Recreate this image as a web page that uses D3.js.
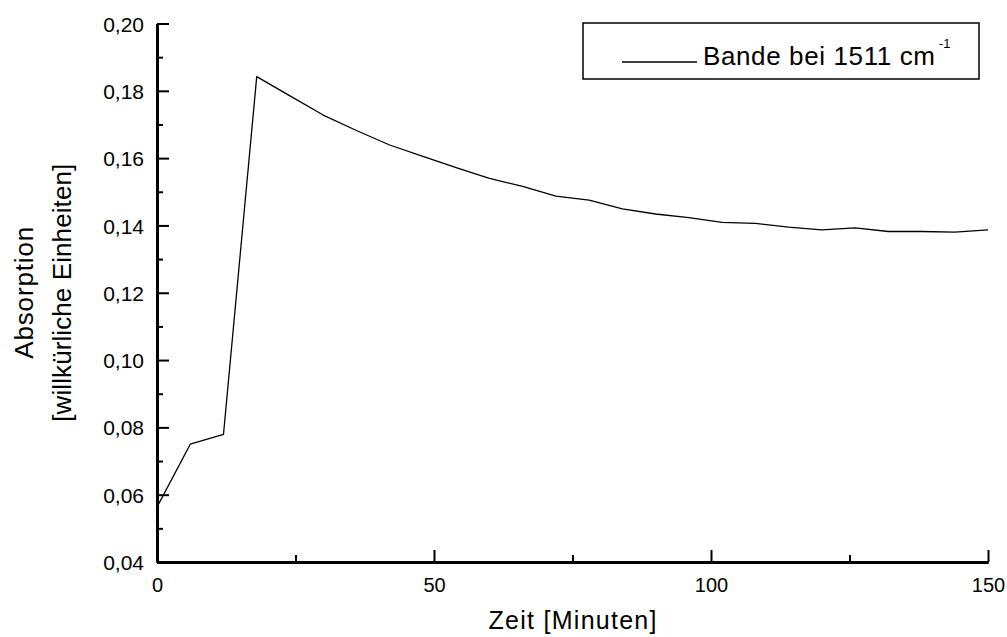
<!DOCTYPE html>
<html>
<head>
<meta charset="utf-8">
<script src="https://cdn.jsdelivr.net/npm/d3@7"></script>
<style>
  body { margin: 0; background: #fff; }
  svg { font-family: "Liberation Sans", Arial, sans-serif; }
</style>
</head>
<body>
<svg width="1007" height="637"></svg>
<script>
// Zeit in Minuten und gemessene Absorption
let zeit = [0, 6, 12, 18, 24, 30, 36, 42, 48, 54, 60, 66, 72, 78, 84, 90, 96, 102, 108, 114, 120, 126, 132, 138, 144, 150];
let absorption = [0.0563, 0.0750, 0.0779, 0.1842, 0.1785, 0.1728, 0.1682, 0.1639, 0.1605, 0.1572, 0.1540, 0.1516, 0.1487, 0.1475,
    0.1449, 0.1434, 0.1423, 0.1409, 0.1406, 0.1395, 0.1387, 0.1393, 0.1382, 0.1382, 0.1380, 0.1387];

let xTicks = [0, 50, 100, 150];
let xMinor = [25, 75, 125];
let yTicks = [0.04, 0.06, 0.08, 0.10, 0.12, 0.14, 0.16, 0.18, 0.20];
let yMinor = [0.05, 0.07, 0.09, 0.11, 0.13, 0.15, 0.17, 0.19];

let legendText = "Bande bei 1511 cm";
let xTitle = "Zeit [Minuten]";
let yTitle = ["Absorption", "[willkürliche Einheiten]"];

let pLeft = 157, pRight = 988, pTop = 23.5, pBottom = 562;

let svg = d3.select("svg");
let de = d3.formatLocale({decimal: ",", thousands: ".", grouping: [3], currency: ["", " €"]});

let xScale = d3.scaleLinear().domain([0, 150]).range([pLeft, pRight]);
let yScale = d3.scaleLinear().domain([0.04, 0.20]).range([pBottom, pTop]);

let styleAxis = (g, size) => {
    g.select(".domain").attr("stroke", "#000").attr("stroke-width", 3);
    g.selectAll(".tick line").attr("stroke", "#000").attr("stroke-width", 2);
    g.selectAll("text").attr("fill", "#000").style("font-size", size + "px");
};

// Nebenteilung
svg.append("g")
    .attr("transform", "translate(0," + pBottom + ")")
    .call(d3.axisBottom(xScale).tickValues(xMinor).tickSizeInner(-7).tickSizeOuter(0).tickFormat(""))
    .call(g => styleAxis(g, 20));
svg.append("g")
    .attr("transform", "translate(" + pLeft + ",0)")
    .call(d3.axisLeft(yScale).tickValues(yMinor).tickSizeInner(-6).tickSizeOuter(0).tickFormat(""))
    .call(g => styleAxis(g, 21));

// Hauptachsen
let xAxis = svg.append("g")
    .attr("transform", "translate(0," + pBottom + ")")
    .call(d3.axisBottom(xScale).tickValues(xTicks).tickSizeInner(-12).tickSizeOuter(0).tickPadding(14).tickFormat(d3.format("d")))
    .call(g => styleAxis(g, 20));
xAxis.selectAll("text").attr("y", 30).attr("dy", 0);

let yAxis = svg.append("g")
    .attr("transform", "translate(" + pLeft + ",0)")
    .call(d3.axisLeft(yScale).tickValues(yTicks).tickSizeInner(-12).tickSizeOuter(0).tickPadding(13).tickFormat(de.format(".2f")))
    .call(g => styleAxis(g, 21));
yAxis.selectAll("text").attr("dy", "0.36em");

// Messkurve
let line = d3.line()
    .x((d, i) => xScale(zeit[i]))
    .y(d => yScale(d));

svg.append("path")
    .datum(absorption)
    .attr("d", line)
    .attr("fill", "none")
    .attr("stroke", "#000")
    .attr("stroke-width", 1.3)
    .attr("stroke-linejoin", "round");

// Achsentitel
svg.append("text")
    .attr("x", (pLeft + pRight) / 2)
    .attr("y", 629)
    .attr("text-anchor", "middle")
    .attr("textLength", 168)
    .style("font-size", "25px")
    .text(xTitle);

svg.selectAll(".ytitle")
    .data(yTitle)
    .enter()
    .append("text")
    .attr("class", "ytitle")
    .attr("transform", (d, i) => "translate(" + (i == 0 ? 33 : 71) + "," + ((pTop + pBottom) / 2) + ") rotate(-90)")
    .attr("text-anchor", "middle")
    .attr("textLength", (d, i) => i == 0 ? 132 : 258)
    .style("font-size", "26px")
    .text(d => d);

// Legende
let legend = svg.append("g");
legend.append("rect")
    .attr("x", 583)
    .attr("y", 23)
    .attr("width", 396)
    .attr("height", 56)
    .attr("fill", "#fff")
    .attr("stroke", "#000")
    .attr("stroke-width", 1.5);
legend.append("line")
    .attr("x1", 622)
    .attr("x2", 697)
    .attr("y1", 62)
    .attr("y2", 62)
    .attr("stroke", "#000")
    .attr("stroke-width", 1.3);
legend.append("text")
    .attr("x", 703)
    .attr("y", 65)
    .attr("textLength", 232)
    .style("font-size", "26px")
    .text(legendText);
legend.append("text")
    .attr("x", 939)
    .attr("y", 48)
    .style("font-size", "13px")
    .text("-1");
</script>
</body>
</html>
